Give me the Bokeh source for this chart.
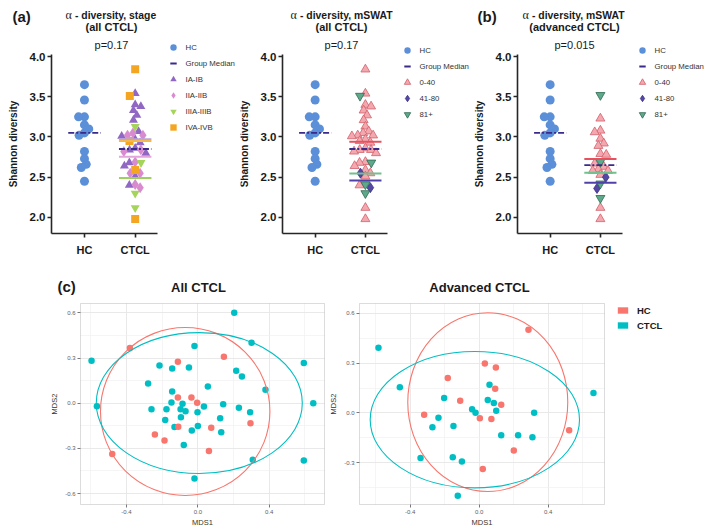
import numpy as np
from bokeh.plotting import figure
from bokeh.layouts import column, row
from bokeh.models import (Range1d, FixedTicker, NumeralTickFormatter, Label, Legend, LegendItem,
                          BoxAnnotation, Grid)
from bokeh.embed import file_html
from bokeh.resources import INLINE

FONT = "Liberation Sans"
SERIF = "Liberation Serif"

# ---------------- alpha diversity (Shannon) ----------------
categories = ["HC", "CTCL"]
hc_shannon = [3.65, 3.46, 3.25, 3.25, 3.15, 3.10, 3.05, 3.02, 2.82, 2.73, 2.66, 2.62, 2.45]

stage_labels = ["IA-IB", "IIA-IIB", "IIIA-IIIB", "IVA-IVB"]
stage_ia_ib = [3.54, 3.40, 3.38, 3.33, 3.27, 3.21, 3.07, 3.01, 2.97, 2.93, 2.86, 2.84, 2.80, 2.68, 2.64, 2.51, 2.40]
stage_iia_iib = [3.05, 3.02, 3.02, 2.84, 2.82, 2.69, 2.55, 2.55, 2.41, 2.37]
stage_iiia_iiib = [3.13, 2.68, 2.30, 2.12]
stage_iva_ivb = [3.84, 3.51, 2.95, 2.59, 1.98]

mswat_labels = ["0-40", "41-80", "81+"]
all_mswat_0_40 = [3.84, 3.54, 3.40, 3.38, 3.33, 3.27, 3.21, 3.13, 3.07, 3.05, 3.02, 3.02, 3.01, 2.97, 2.95,
                  2.93, 2.86, 2.84, 2.84, 2.82, 2.80, 2.69, 2.68, 2.64, 2.59, 2.55, 2.51, 2.40, 2.12, 1.98]
all_mswat_41_80 = [2.55, 2.37]
all_mswat_81 = [3.51, 2.68, 2.41, 2.30]

adv_mswat_0_40 = [3.23, 3.08, 3.06, 2.98, 2.92, 2.89, 2.79, 2.78, 2.67, 2.63, 2.60, 2.58, 2.58, 2.53, 2.12, 1.98]
adv_mswat_41_80 = [2.50, 2.36]
adv_mswat_81 = [3.52, 2.69, 2.42, 2.24]

y_ticks_alpha = [2.0, 2.5, 3.0, 3.5, 4.0]

# ---------------- MDS (beta diversity) ----------------
mds_groups = ["HC", "CTCL"]
mds_all_hc_x = [-0.381, -0.112, 0.146, -0.112, -0.036, -0.004, -0.110, -0.241, -0.187, 0.075, 0.062, 0.295, -0.480]
mds_all_hc_y = [0.367, 0.275, 0.308, 0.038, 0.038, 0.002, -0.157, -0.208, -0.248, -0.164, -0.317, -0.133, -0.337]
mds_all_ctcl_x = [-0.596, -0.566, 0.204, 0.301, 0.594, 0.647, 0.594, 0.308, -0.019, -0.019, -0.215, -0.144, -0.050,
                  -0.279, 0.056, 0.215, 0.247, 0.379, -0.144, -0.260, -0.176, -0.148, -0.086, -0.097, -0.069, 0.034,
                  -0.002, 0.142, 0.230, 0.293, -0.095, -0.183, 0.125, -0.131, 0.000, -0.034, 0.131, -0.079]
mds_all_ctcl_y = [0.281, -0.020, 0.600, 0.401, 0.266, 0.000, -0.381, -0.376, -0.500, 0.379, 0.250, 0.230, 0.237,
                  0.131, 0.111, 0.215, 0.177, 0.089, 0.077, -0.040, -0.040, 0.004, -0.004, -0.040, -0.053, -0.022,
                  -0.060, -0.007, -0.031, -0.060, -0.093, -0.111, -0.100, -0.159, -0.151, -0.182, -0.193, -0.277]
ell_all_cx = [-0.071, 0.008]
ell_all_cy = [-0.055, 0.001]
ell_all_w = [0.950, 1.155]
ell_all_h = [1.116, 0.936]

mds_adv_hc_x = [0.286, 0.033, 0.097, -0.182, 0.093, -0.110, 0.128, -0.319, 0.004, 0.071, 0.522, 0.201, 0.021]
mds_adv_hc_y = [0.500, 0.298, 0.274, 0.210, 0.146, 0.074, 0.050, -0.010, -0.032, -0.036, -0.104, -0.226, -0.336]
mds_adv_ctcl_x = [-0.584, -0.460, 0.663, 0.060, 0.050, 0.085, -0.203, -0.041, -0.021, 0.099, 0.319, -0.236,
                  -0.271, -0.149, 0.128, 0.226, 0.309, -0.340, -0.153, -0.100, -0.124]
mds_adv_ctcl_y = [0.392, 0.154, 0.120, 0.170, 0.078, 0.060, 0.090, 0.022, 0.002, 0.014, 0.002, -0.028,
                  -0.086, -0.078, -0.134, -0.134, -0.146, -0.270, -0.266, -0.292, -0.498]
ell_adv_cx = [0.050, -0.025]
ell_adv_cy = [0.065, -0.040]
ell_adv_w = [0.928, 1.214]
ell_adv_h = [1.074, 0.820]

mds_x_ticks = [-0.4, 0.0, 0.4]
mds_x_minor = [-0.6, -0.2, 0.2, 0.6]
mds_all_y_ticks = [-0.6, -0.3, 0.0, 0.3, 0.6]
mds_adv_y_ticks = [-0.3, 0.0, 0.3, 0.6]
mds_y_minor = [-0.45, -0.15, 0.15, 0.45]

# ---------------- styles ----------------
HC_BLUE = "#5B8FD8"
GM_COL = "#3A2A8A"
HC_RED = "#F8766D"
CTCL_CYAN = "#00BFC4"
X0, X1 = 0.35, 2.44
Y0, Y1 = 1.8, 4.0
MH = 0.32  # half width of median bars (data units)
NAN1 = [np.nan]


def make_fig(box, inner, xr, yr):
    """box/inner: (left, top, right, bottom) page px; xr/yr: data extent of inner panel."""
    L, T, R, B = box
    il, it, ir, ib = inner
    kx = (ir - il) / (xr[1] - xr[0])
    ky = (ib - it) / (yr[1] - yr[0])
    p = figure(width=R - L, height=B - T,
               x_range=Range1d(xr[0] - (il - L) / kx, xr[1] + (R - ir) / kx),
               y_range=Range1d(yr[0] - (B - ib) / ky, yr[1] + (it - T) / ky),
               output_backend="svg", toolbar_location=None, min_border=0)
    p.outline_line_color = None
    p.background_fill_color = "white"
    p.border_fill_color = "white"
    return p, kx, ky


def add_label(p, box, text, px, py, size, bold=False, align="center", color="#1a1a1a", font=FONT):
    L, T, R, B = box
    p.add_layout(Label(x=px - L, y=B - py, x_units="screen", y_units="screen", text=text,
                       text_font=font, text_font_size=size, text_font_style="bold" if bold else "normal",
                       text_align=align, text_baseline="middle", text_color=color))


def make_legend(items, gsize, pitch, **kw):
    n = len(items)
    try:
        sp = int(pitch - gsize)
        leg = Legend(items=items, glyph_width=gsize, glyph_height=gsize, label_height=gsize,
                     spacing=sp, **kw)
        g = gsize
    except Exception:
        g = int(min(gsize, pitch))
        sp = int(pitch - g)
        leg = Legend(items=items, glyph_width=g, glyph_height=g, label_height=g, spacing=sp, **kw)
    h = n * g + (n - 1) * sp
    return leg, h, g


def swarm(vals, xpx, ypx, d=5.9):
    order = sorted(range(len(vals)), key=lambda i: -vals[i])
    placed = []
    offs = [0.0] * len(vals)
    sgn = 1.0
    for i in order:
        y = vals[i] * ypx
        cands = [0.0]
        for (px, py) in placed:
            dy = abs(py - y)
            if dy < d:
                dx = (d * d - dy * dy) ** 0.5
                cands += [px + dx, px - dx]
        cands.sort(key=lambda c: (round(abs(c), 2), c * sgn))
        chosen = 0.0
        for c in cands:
            if all((c - px) ** 2 + (y - py) ** 2 >= d * d - 1e-6 for px, py in placed):
                chosen = c
                break
        if chosen != 0:
            sgn = -sgn
        placed.append((chosen, y))
        offs[i] = chosen / xpx
    return offs


def alpha_panel(box, inner_l, inner_r, tag, tag_x, t1, t1_x, t2, pval, title_cx, groups, labels, styles,
                med_colors, leg_gx):
    inner = (inner_l, 56, inner_r, 233)
    p, kx, ky = make_fig(box, inner, (X0, X1), (Y0, Y1))
    L, T, R, B = box
    p.xgrid.visible = False
    p.ygrid.visible = False

    for ax in (p.xaxis[0], p.yaxis[0]):
        ax.axis_line_color = "#262626"
        ax.axis_line_width = 1.6
        ax.major_tick_line_color = "#262626"
        ax.major_tick_line_width = 1.6
        ax.major_tick_out = 4
        ax.major_tick_in = 0
        ax.minor_tick_line_color = None
        ax.major_label_text_font = FONT
        ax.major_label_text_font_style = "bold"
        ax.major_label_text_color = "#1a1a1a"
    p.xaxis.fixed_location = Y0
    p.xaxis.bounds = (X0, X1)
    p.yaxis.fixed_location = X0
    p.yaxis.bounds = (Y0, 4.03)
    p.xaxis.ticker = FixedTicker(ticks=[1, 2])
    p.xaxis.major_label_overrides = {1: categories[0], 2: categories[1]}
    p.xaxis.major_label_text_font_size = "11px"
    p.xaxis.major_label_standoff = 6
    p.yaxis.ticker = FixedTicker(ticks=y_ticks_alpha)
    p.yaxis.formatter = NumeralTickFormatter(format="0.0")
    p.yaxis.major_label_text_font_size = "11.5px"
    p.yaxis.major_label_standoff = 2
    p.yaxis.axis_label = "Shannon diversity"
    p.yaxis.axis_label_text_font = FONT
    p.yaxis.axis_label_text_font_size = "10px"
    p.yaxis.axis_label_text_font_style = "bold"
    p.yaxis.axis_label_text_color = "#1a1a1a"
    p.yaxis.axis_label_standoff = 8

    hc_off = swarm(hc_shannon, kx, ky)
    hc_r = p.scatter(x=[1 + o for o in hc_off], y=hc_shannon, marker="circle", size=9,
                     fill_color=HC_BLUE, line_color=None)

    allv = [v for g in groups for v in g]
    offs = swarm(allv, kx, ky)
    rends = []
    k = 0
    for vals, st in zip(groups, styles):
        o = offs[k:k + len(vals)]
        k += len(vals)
        rends.append(p.scatter(x=[2 + v for v in o], y=vals, **st))

    for vals, c in zip(groups, med_colors):
        m = float(np.median(vals))
        p.segment(x0=[2 - MH], x1=[2 + MH], y0=[m], y1=[m], line_color=c, line_width=2)
    hm = float(np.median(hc_shannon))
    gm = float(np.median(allv))
    p.segment(x0=[1 - MH, 2 - MH], x1=[1 + MH, 2 + MH], y0=[hm, gm], y1=[hm, gm],
              line_color=GM_COL, line_width=1.8, line_dash="6 2 2 2")
    gm_key = p.scatter(x=NAN1, y=NAN1, marker="dash", size=6, line_color=GM_COL, line_width=2)

    items = [LegendItem(label="HC", renderers=[hc_r]), LegendItem(label="Group Median", renderers=[gm_key])]
    for lab, r in zip(labels, rends):
        items.append(LegendItem(label=lab, renderers=[r]))
    leg, leg_h, g = make_legend(items, 16, 13, padding=0, margin=0, label_text_font=FONT,
                                label_text_font_size="7.8px", label_text_color="#333333",
                                background_fill_alpha=0, border_line_alpha=0)
    leg.label_standoff = int(round(13 - g / 2))
    leg_top = 62.3 - g / 2
    leg.location = (leg_gx - g / 2 - L, B - (leg_top + leg_h))
    p.add_layout(leg, "center")

    add_label(p, box, "\u03b1", t1_x, 14.2, "12px", align="left", font=SERIF)
    add_label(p, box, t1, t1_x + 9.5, 14.7, "10.4px", bold=True, align="left")
    add_label(p, box, t2, title_cx, 26.7, "11px", bold=True)
    add_label(p, box, pval, title_cx, 44.5, "11px")
    if tag:
        add_label(p, box, tag, tag_x, 15.5, "15px", bold=True, align="left")
    return p


stage_styles = [
    dict(marker="triangle", size=9, fill_color="#9068C4", line_color=None),
    dict(marker="diamond", size=11, fill_color="#D98BD0", line_color=None),
    dict(marker="inverted_triangle", size=9, fill_color="#A5D45A", line_color=None),
    dict(marker="square", size=8, fill_color="#F4A623", line_color=None),
]
stage_med = ["#B9A3E0", "#E3A6DB", "#9ED060", "#F5B84A"]

mswat_styles = [
    dict(marker="triangle", size=9, fill_color="#F3A8AF", line_color="#D2606B", line_width=0.8),
    dict(marker="diamond", size=10, fill_color="#5547A6", line_color="#3A2E80", line_width=0.8),
    dict(marker="inverted_triangle", size=9, fill_color="#5EA98B", line_color="#2E6A52", line_width=0.8),
]
mswat_med = ["#E8505E", "#4E42AA", "#72C08E"]

p1 = alpha_panel((0, 0, 240, 262), 51, 157, "(a)", 12, "- diversity, stage", 65, "(all CTCL)", "p=0.17", 111,
                 [stage_ia_ib, stage_iia_iib, stage_iiia_iiib, stage_iva_ivb], stage_labels,
                 stage_styles, stage_med, 172.5)
p2 = alpha_panel((240, 0, 472, 262), 282, 387, None, 0, "- diversity, mSWAT", 290, "(all CTCL)", "p=0.17", 341,
                 [all_mswat_0_40, all_mswat_41_80, all_mswat_81], mswat_labels,
                 mswat_styles, mswat_med, 406.5)
p3 = alpha_panel((472, 0, 709, 262), 517, 622, "(b)", 477, "- diversity, mSWAT", 522, "(advanced CTCL)",
                 "p=0.015", 574, [adv_mswat_0_40, adv_mswat_41_80, adv_mswat_81], mswat_labels,
                 mswat_styles, mswat_med, 641.5)


def mds_panel(box, inner, xr, yr, title, title_cx, tag, hx, hy, cx, cy, ecx, ecy, ew, eh, yt, legend):
    p, kx, ky = make_fig(box, inner, xr, yr)
    p.xaxis.ticker = FixedTicker(ticks=mds_x_ticks, minor_ticks=mds_x_minor)
    p.yaxis.ticker = FixedTicker(ticks=yt, minor_ticks=mds_y_minor)
    p.xaxis.fixed_location = yr[0]
    p.xaxis.bounds = xr
    p.yaxis.fixed_location = xr[0]
    p.yaxis.bounds = yr
    for ax in (p.xaxis[0], p.yaxis[0]):
        ax.formatter = NumeralTickFormatter(format="0.0")
        ax.axis_line_color = None
        ax.major_tick_line_color = "#555555"
        ax.major_tick_line_width = 0.8
        ax.major_tick_out = 3
        ax.major_tick_in = 0
        ax.minor_tick_line_color = None
        ax.major_label_text_font = FONT
        ax.major_label_text_font_size = "6px"
        ax.major_label_text_color = "#5E5E5E"
        ax.major_label_standoff = 1
        ax.axis_label_text_font = FONT
        ax.axis_label_text_font_size = "7.5px"
        ax.axis_label_text_font_style = "normal"
        ax.axis_label_text_color = "#333333"
    p.xaxis.axis_label_standoff = 1
    p.yaxis.axis_label_standoff = 3
    p.xaxis.axis_label = "MDS1"
    p.yaxis.axis_label = "MDS2"
    has_cross = "cross_bounds" in Grid.properties()
    for g, cb in ((p.xgrid[0], yr), (p.ygrid[0], xr)):
        g.grid_line_color = "#E6E6E6"
        g.grid_line_width = 0.9
        g.minor_grid_line_color = "#F1F1F1"
        g.minor_grid_line_width = 0.7
        if has_cross:
            g.cross_bounds = cb
    p.xgrid.bounds = xr
    p.ygrid.bounds = yr

    p.scatter(x=cx, y=cy, size=6.5, fill_color=CTCL_CYAN, line_color=None)
    p.scatter(x=hx, y=hy, size=6.5, fill_color=HC_RED, line_color=None)
    p.ellipse(x=ecx, y=ecy, width=ew, height=eh, fill_color=None,
              line_color=[HC_RED, CTCL_CYAN], line_width=1.1)
    p.add_layout(BoxAnnotation(left=xr[0], right=xr[1], bottom=yr[0], top=yr[1], fill_color=None,
                               fill_alpha=0, line_color="#8C8C8C", line_width=1))

    add_label(p, box, title, title_cx, 287, "13px", bold=True)
    if tag:
        add_label(p, box, tag, 57, 285.5, "15px", bold=True, align="left")
    if legend:
        L, T, R, B = box
        qh = p.quad(left=NAN1, right=NAN1, top=NAN1, bottom=NAN1, fill_color=HC_RED, line_color=None)
        qc = p.quad(left=NAN1, right=NAN1, top=NAN1, bottom=NAN1, fill_color=CTCL_CYAN, line_color=None)
        leg = Legend(items=[LegendItem(label=mds_groups[0], renderers=[qh]),
                            LegendItem(label=mds_groups[1], renderers=[qc])],
                     location=(616 - L, B - 331.5), glyph_width=13, glyph_height=8, label_height=13,
                     spacing=2, padding=0, margin=0, label_standoff=8, label_text_font=FONT,
                     label_text_font_size="9.5px", label_text_font_style="bold",
                     label_text_color="#1a1a1a", background_fill_alpha=0, border_line_alpha=0)
        p.add_layout(leg, "center")
    return p


p4 = mds_panel((0, 262, 327, 531), (80, 303, 324, 504), (-0.658, 0.710), (-0.673, 0.662), "All CTCL", 198,
               "(c)", mds_all_hc_x, mds_all_hc_y, mds_all_ctcl_x, mds_all_ctcl_y,
               ell_all_cx, ell_all_cy, ell_all_w, ell_all_h, mds_all_y_ticks, False)
p5 = mds_panel((327, 262, 709, 531), (359, 303, 604, 504), (-0.694, 0.727), (-0.55, 0.658), "Advanced CTCL", 479,
               None, mds_adv_hc_x, mds_adv_hc_y, mds_adv_ctcl_x, mds_adv_ctcl_y,
               ell_adv_cx, ell_adv_cy, ell_adv_w, ell_adv_h, mds_adv_y_ticks, True)

layout = column(row(p1, p2, p3), row(p4, p5))
open("out.html", "w").write(file_html(layout, INLINE))
